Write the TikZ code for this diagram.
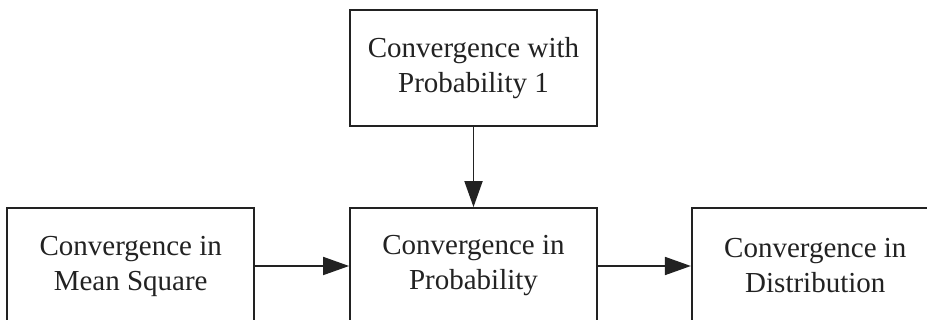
\documentclass[tikz,border=0pt]{standalone}
\usepackage{fontspec}
\setmainfont{Liberation Serif}
\usepackage{tikz}
\usetikzlibrary{arrows.meta, positioning}
\definecolor{ink}{HTML}{222222}

\begin{document}
\begin{tikzpicture}[x=1pt, y=1pt, node distance=80pt,
  mode/.style={rectangle, draw=ink, line width=1.8pt, fill=white,
    minimum width=247pt, minimum height=116pt, inner sep=0pt,
    align=center, text=ink, font=\fontsize{29}{35}\selectfont},
  imp/.style={-{Triangle[length=26pt, width=18pt]}, line width=1.8pt, ink}]
  \clip (0,0) rectangle (927,-320);
  \useasboundingbox (0,0) rectangle (927,-320);
  \node[mode] (prob) at (473.5,-266) {Convergence in\\Probability};
  \node[mode, above=80pt of prob] (wp1) {Convergence with\\Probability 1};
  \node[mode, left=94pt of prob] (ms) {Convergence in\\Mean Square};
  \node[mode, right=93pt of prob] (dist) {Convergence in\\Distribution};
  \draw[imp] (wp1) -- (prob);
  \draw[imp] (ms) -- (prob);
  \draw[imp] (prob) -- (dist);
\end{tikzpicture}
\end{document}
